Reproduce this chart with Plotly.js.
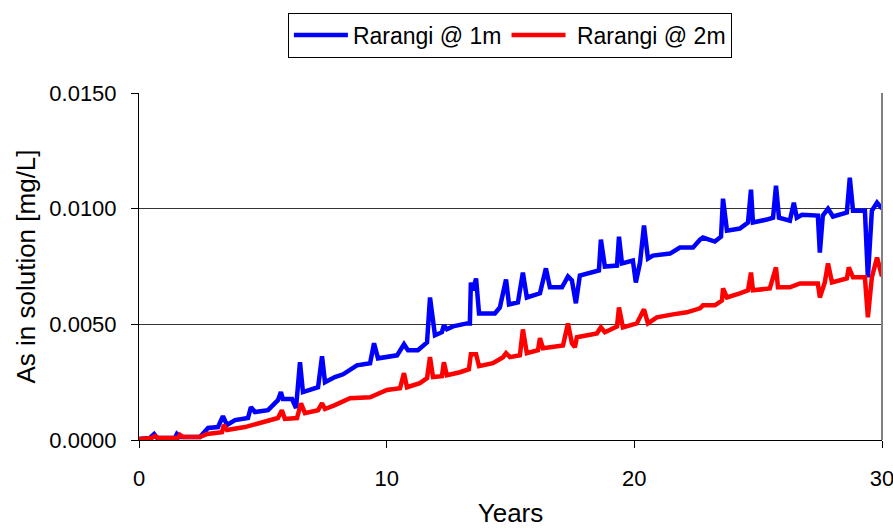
<!DOCTYPE html>
<html>
<head>
<meta charset="utf-8">
<script src="https://cdn.plot.ly/plotly-3.0.1.min.js"></script>
<style>html,body{margin:0;padding:0;background:#fff;}#chart{width:893px;height:528px;}</style>
</head>
<body>
<div id="chart"></div>
<script>
const seriesNames = ["Rarangi @ 1m", "\u00a0Rarangi @ 2m"];

const years1 = [0,0.44,0.61,0.73,1.45,1.53,1.66,2.46,2.79,3.19,3.39,3.55,3.88,4.40,4.52,4.68,5.21,5.61,5.73,5.81,6.18,6.34,6.50,6.62,7.23,7.39,7.51,7.91,8.24,8.80,9.33,9.49,9.65,10.42,10.70,10.86,11.26,11.63,11.75,11.95,12.23,12.31,12.43,12.68,13.24,13.36,13.40,13.48,13.61,13.73,14.37,14.57,14.82,14.94,15.30,15.50,15.66,16.19,16.43,16.59,17.08,17.32,17.48,17.64,17.80,18.57,18.65,18.81,19.30,19.38,19.50,19.94,20.06,20.23,20.39,20.55,20.75,21.44,21.84,22.37,22.65,22.77,23.25,23.50,23.58,23.74,24.26,24.59,24.71,24.79,25.35,25.60,25.72,25.84,26.28,26.44,26.56,26.77,27.41,27.49,27.61,27.82,28.02,28.58,28.70,28.83,29.31,29.43,29.59,29.80,30.00];
const as1m = [0.00004,0.00009,0.00026,0.00009,0.00009,0.00026,0.00013,0.00013,0.00052,0.00056,0.00103,0.00065,0.00086,0.00095,0.00142,0.00121,0.00129,0.00172,0.00207,0.00177,0.00177,0.00138,0.00336,0.00207,0.00228,0.00362,0.00250,0.00272,0.00284,0.00323,0.00332,0.00418,0.00353,0.00366,0.00414,0.00388,0.00388,0.00422,0.00616,0.00453,0.00466,0.00496,0.00479,0.00491,0.00504,0.00504,0.00681,0.00647,0.00698,0.00547,0.00547,0.00573,0.00694,0.00586,0.00595,0.00724,0.00616,0.00634,0.00742,0.00660,0.00660,0.00707,0.00690,0.00591,0.00711,0.00733,0.00866,0.00750,0.00754,0.00879,0.00763,0.00776,0.00681,0.00767,0.00927,0.00784,0.00797,0.00806,0.00832,0.00832,0.00866,0.00875,0.00858,0.00879,0.01043,0.00905,0.00914,0.00940,0.01082,0.00940,0.00953,0.00961,0.01099,0.00961,0.00948,0.01026,0.00961,0.00974,0.00970,0.00810,0.00970,0.01000,0.00966,0.00983,0.01134,0.00991,0.00991,0.00703,0.00991,0.01026,0.01000];

const years2 = [0,0.52,0.65,0.77,1.57,1.66,1.78,2.46,2.75,3.35,3.43,3.55,4.28,4.97,5.61,5.77,5.89,6.38,6.54,6.70,7.23,7.39,7.51,7.91,8.52,9.33,10.01,10.54,10.70,10.82,11.34,11.63,11.75,11.87,12.23,12.31,12.43,12.96,13.32,13.40,13.61,13.73,14.29,14.70,14.82,14.98,15.38,15.50,15.66,16.11,16.19,16.31,17.12,17.32,17.48,17.60,17.68,18.49,18.65,18.81,19.30,19.38,19.54,20.10,20.39,20.55,20.91,21.56,22.12,22.65,22.77,23.25,23.54,23.58,23.74,24.26,24.59,24.71,24.79,25.47,25.72,25.80,26.28,26.69,27.41,27.49,27.69,27.82,27.98,28.58,28.66,28.83,29.31,29.43,29.59,29.80,30.00];
const as2m = [0.00004,0.00009,0.00017,0.00009,0.00009,0.00022,0.00013,0.00013,0.00026,0.00034,0.00065,0.00043,0.00056,0.00078,0.00095,0.00129,0.00091,0.00095,0.00159,0.00116,0.00129,0.00159,0.00134,0.00151,0.00181,0.00185,0.00216,0.00224,0.00289,0.00228,0.00246,0.00267,0.00358,0.00272,0.00276,0.00336,0.00280,0.00293,0.00306,0.00371,0.00371,0.00319,0.00332,0.00358,0.00375,0.00358,0.00366,0.00478,0.00375,0.00388,0.00440,0.00397,0.00409,0.00504,0.00418,0.00401,0.00444,0.00461,0.00487,0.00466,0.00491,0.00573,0.00487,0.00504,0.00565,0.00504,0.00530,0.00543,0.00552,0.00569,0.00582,0.00582,0.00603,0.00655,0.00616,0.00634,0.00647,0.00724,0.00647,0.00655,0.00746,0.00660,0.00660,0.00677,0.00677,0.00616,0.00681,0.00763,0.00681,0.00698,0.00746,0.00703,0.00703,0.00530,0.00703,0.00789,0.00707];

const xTickVals = [0, 10, 20, 30];
const yTickVals = [0, 0.005, 0.010, 0.015];

const FONT = "Liberation Sans, Arial, sans-serif";

const traces = [
  {x: years1, y: as1m, name: seriesNames[0], type: "scatter", mode: "lines",
   line: {color: "#0000FF", width: 4.5}},
  {x: years2, y: as2m, name: seriesNames[1], type: "scatter", mode: "lines",
   line: {color: "#FF0000", width: 4.5}}
];

const layout = {
  width: 893, height: 528,
  margin: {l: 139, r: 11, t: 93, b: 88, pad: 0},
  paper_bgcolor: "#fff", plot_bgcolor: "#fff",
  font: {family: FONT, color: "#000", size: 22},
  showlegend: true,
  legend: {
    orientation: "h", xref: "container", x: 0.571, xanchor: "center",
    yref: "container", y: 0.976, yanchor: "top",
    bgcolor: "#fff", bordercolor: "#000", borderwidth: 1,
    font: {family: FONT, size: 23, color: "#000"},
    itemwidth: 54,
    traceorder: "normal"
  },
  xaxis: {
    range: [0, 30], tickvals: xTickVals, ticktext: xTickVals.map(String),
    showline: true, linecolor: "#000", linewidth: 1,
    ticks: "outside", ticklen: 7, tickcolor: "#000", tickwidth: 1,
    ticklabelstandoff: 12, ticklabeloverflow: "allow",
    showgrid: false, zeroline: false, automargin: false,
    tickfont: {family: FONT, size: 22, color: "#000"},
    title: {text: "Years", font: {family: FONT, size: 26, color: "#000"}, standoff: 28}
  },
  yaxis: {
    range: [0, 0.015], tickvals: yTickVals, tickformat: ".4f",
    showline: true, linecolor: "#000", linewidth: 1,
    ticks: "outside", ticklen: 7, tickcolor: "#000", tickwidth: 1,
    ticklabelstandoff: 10,
    showgrid: true, gridcolor: "#333", gridwidth: 1,
    zeroline: false, automargin: false,
    tickfont: {family: FONT, size: 22, color: "#000"},
    title: {text: "As in solution [mg/L]", font: {family: FONT, size: 26, color: "#000"}, standoff: 6}
  },
  shapes: [
    {type: "line", xref: "paper", yref: "paper", x0: 1, x1: 1, y0: 0, y1: 1,
     line: {color: "#808080", width: 2}}
  ]
};

Plotly.newPlot("chart", traces, layout, {displayModeBar: false, staticPlot: true});
</script>
</body>
</html>
